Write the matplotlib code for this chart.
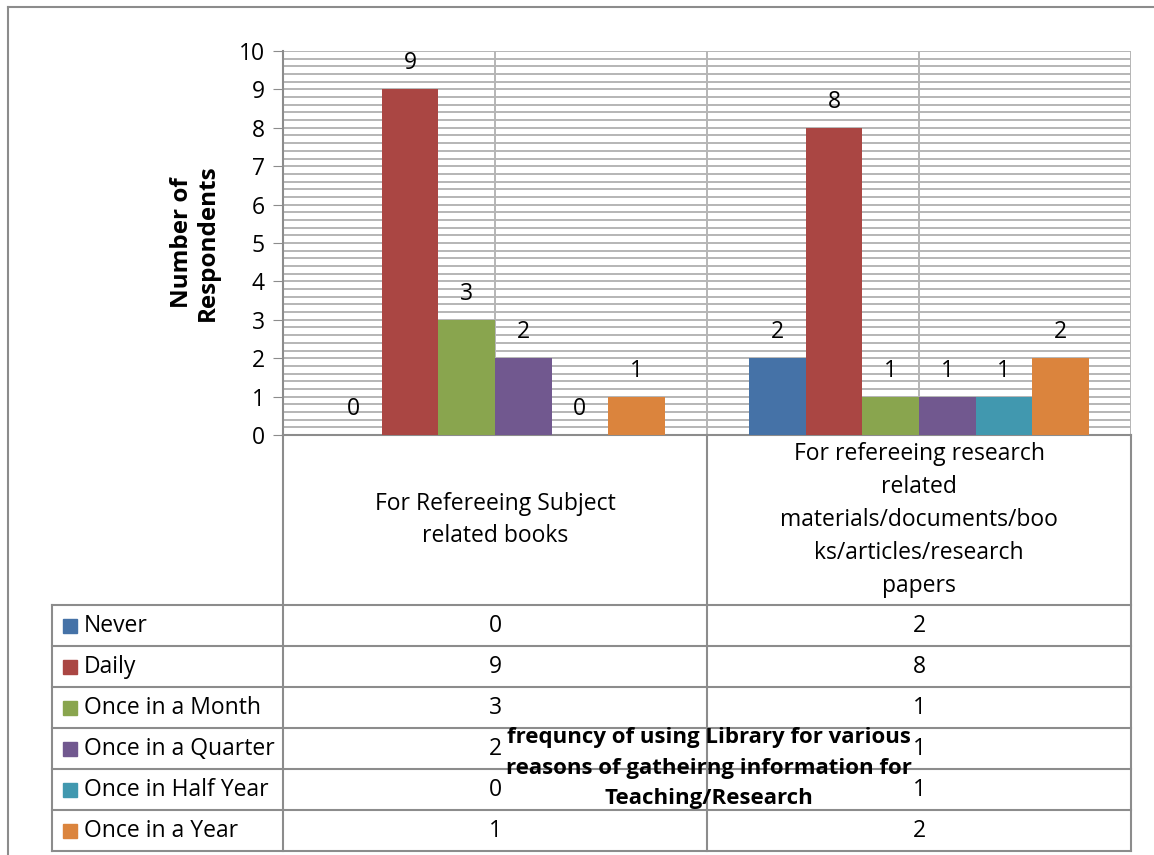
import matplotlib.pyplot as plt
from matplotlib.ticker import MultipleLocator

categories = ['For Refereeing Subject\nrelated books',
              'For refereeing research\nrelated\nmaterials/documents/boo\nks/articles/research\npapers']
series = ['Never', 'Daily', 'Once in a Month', 'Once in a Quarter',
          'Once in Half Year', 'Once in a Year']
never = [0, 2]
daily = [9, 8]
month = [3, 1]
quarter = [2, 1]
half_year = [0, 1]
year = [1, 2]
values = [never, daily, month, quarter, half_year, year]
colors = ['#4572A7', '#AA4643', '#89A54E', '#71588F', '#4198AF', '#DB843D']

plt.rcParams['font.family'] = ['Open Sans', 'DejaVu Sans']
FS = 16.5
W, H = 1154, 855
fig = plt.figure(figsize=(W / 100, H / 100), dpi=100)

# plot area in pixels
px0, px1, py_top, py_bot = 283, 1131, 51, 435
ax = fig.add_axes([px0 / W, 1 - py_bot / H, (px1 - px0) / W, (py_bot - py_top) / H])
grid_c = '#b5b5b5'
line_c = '#8c8c8c'

bw = 0.8 / 6
for i, (name, vals, c) in enumerate(zip(series, values, colors)):
    xs = [k + 0.5 + (i - 2.5) * bw for k in range(len(vals))]
    ax.bar(xs, vals, width=bw, color=c, zorder=3, linewidth=0)
    for x, v in zip(xs, vals):
        ax.annotate(str(v), (x, v), xytext=(0, 26), textcoords='offset pixels',
                    ha='center', va='center', fontsize=FS, zorder=4)

ax.set_xlim(0, 2)
ax.set_ylim(0, 10)
ax.yaxis.set_major_locator(MultipleLocator(1))
ax.yaxis.set_minor_locator(MultipleLocator(0.2))
ax.grid(axis='y', which='both', color=grid_c, lw=1.4, zorder=0)
for xv in [0.5, 1, 1.5, 2]:
    ax.axvline(xv, color=grid_c, lw=1.4, zorder=1)
ax.set_xticks([])
ax.tick_params(axis='y', which='major', length=7, color=line_c, labelsize=FS, pad=6)
ax.tick_params(axis='y', which='minor', length=0)
for s in ['top', 'right']:
    ax.spines[s].set_visible(False)
for s in ['left', 'bottom']:
    ax.spines[s].set_color(line_c)
    ax.spines[s].set_linewidth(1.5)
ax.set_ylabel('Number of\nRespondents', fontsize=17.5, fontweight='bold', labelpad=14,
              linespacing=1.05)

# overlay in pixel coordinates for the data table and frame
ov = fig.add_axes([0, 0, 1, 1], zorder=5)
ov.set_xlim(0, W)
ov.set_ylim(H, 0)
ov.axis('off')
ov.patch.set_alpha(0)

ov.plot([8, 8], [7, H], color=line_c, lw=1.5)
ov.plot([8, W], [7, 7], color=line_c, lw=1.5)

row_top = 605
row_h = 41
n = len(series)
table_bot = row_top + n * row_h
for xv in [283, 707, 1131]:
    ov.plot([xv, xv], [py_bot, table_bot], color=line_c, lw=1.5)
ov.plot([52, 52], [row_top, table_bot], color=line_c, lw=1.5)
for r in range(n + 1):
    ov.plot([52, 1131], [row_top + r * row_h] * 2, color=line_c, lw=1.5)

cat_centers = [495, 919]
for cx, cat in zip(cat_centers, categories):
    ov.text(cx, (py_bot + row_top) / 2, cat, ha='center', va='center',
            fontsize=FS, linespacing=1.49)

for r, (name, vals, c) in enumerate(zip(series, values, colors)):
    yc = row_top + r * row_h + row_h / 2
    ov.add_patch(plt.Rectangle((63, yc - 7), 14, 14, color=c))
    ov.text(84, yc, name, ha='left', va='center', fontsize=FS)
    for cx, v in zip(cat_centers, vals):
        ov.text(cx, yc, str(v), ha='center', va='center', fontsize=FS)

ov.text(709, 768, 'frequncy of using Library for various\nreasons of gatheirng information for\nTeaching/Research',
        ha='center', va='center', fontsize=16, fontweight='bold', linespacing=1.62)

fig.savefig('out.png', dpi=100)
